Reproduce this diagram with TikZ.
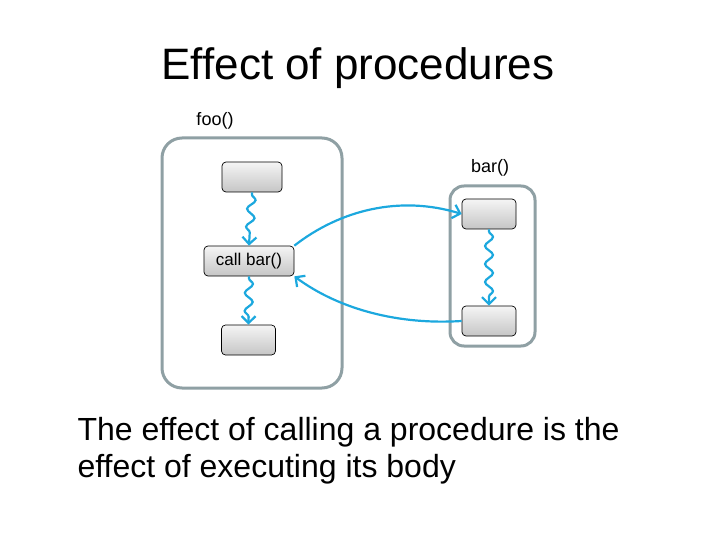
\documentclass[tikz,border=0pt]{standalone}
\usepackage{fontspec}
\setmainfont[Ligatures=NoCommon]{Liberation Sans}
\usetikzlibrary{arrows.meta,decorations.pathmorphing,shadings}
\definecolor{frame}{HTML}{8FA0A4}
\definecolor{wire}{HTML}{1CA8DE}
\tikzset{
  proc/.style={draw=frame,line width=3pt,rounded corners=20pt},
  stmt/.style={draw=black,line width=0.7pt,rounded corners=4pt,top color=gray!8,bottom color=gray!45,inner sep=0pt,font=\fontsize{17}{20}\selectfont},
  wavy/.style={draw=wire,line width=2.2pt,-{Straight Barb[length=7pt,width=14pt,line width=2.2pt]},
    decorate,decoration={snake,segment length=18pt,amplitude=4pt,pre length=2pt,post length=8pt}},
  flow/.style={draw=wire,line width=2.2pt,-{Straight Barb[length=7pt,width=14pt,line width=2.2pt]}},
  lab/.style={font=\fontsize{18}{21}\selectfont}
}
\begin{document}
\begin{tikzpicture}[x=1pt,y=-1pt]
\useasboundingbox (0,0) rectangle (720,540);
\node[font=\fontsize{44}{50}\selectfont] (title) at (358,68) {Effect of procedures};
\node[lab] (foolab) at (215,121) {foo()};
\node[lab] (barlab) at (490,168) {bar()};
\node[proc,minimum width=180pt,minimum height=250pt] (foo) at (252,263) {};
\node[proc,rounded corners=14pt,minimum width=85pt,minimum height=160pt] (bar) at (492.5,266) {};
\node[stmt,minimum width=60pt,minimum height=30pt] (s1) at (252,177) {};
\node[stmt,minimum width=90pt,minimum height=30pt] (call) at (249,261) {call bar()};
\node[stmt,minimum width=54pt,minimum height=30pt] (s3) at (248.5,340) {};
\node[stmt,minimum width=54pt,minimum height=30pt] (b1) at (489,214) {};
\node[stmt,minimum width=54pt,minimum height=30pt] (b2) at (489,321) {};
\draw[wavy] (s1.south) -- (call.north);
\draw[wavy] (call.south) -- (s3.north);
\draw[wavy] (b1.south) -- (b2.north);
\draw[flow] (call.north east) .. controls (340,210) and (400,195) .. (b1.west);
\draw[flow] (b2.west) .. controls (400,325) and (340,310) .. (call.south east);
\node[anchor=west,font=\fontsize{32}{37}\selectfont,align=left] (txt) at (74,451) {The effect of calling a procedure is the\\effect of executing its body};
\end{tikzpicture}
\end{document}
